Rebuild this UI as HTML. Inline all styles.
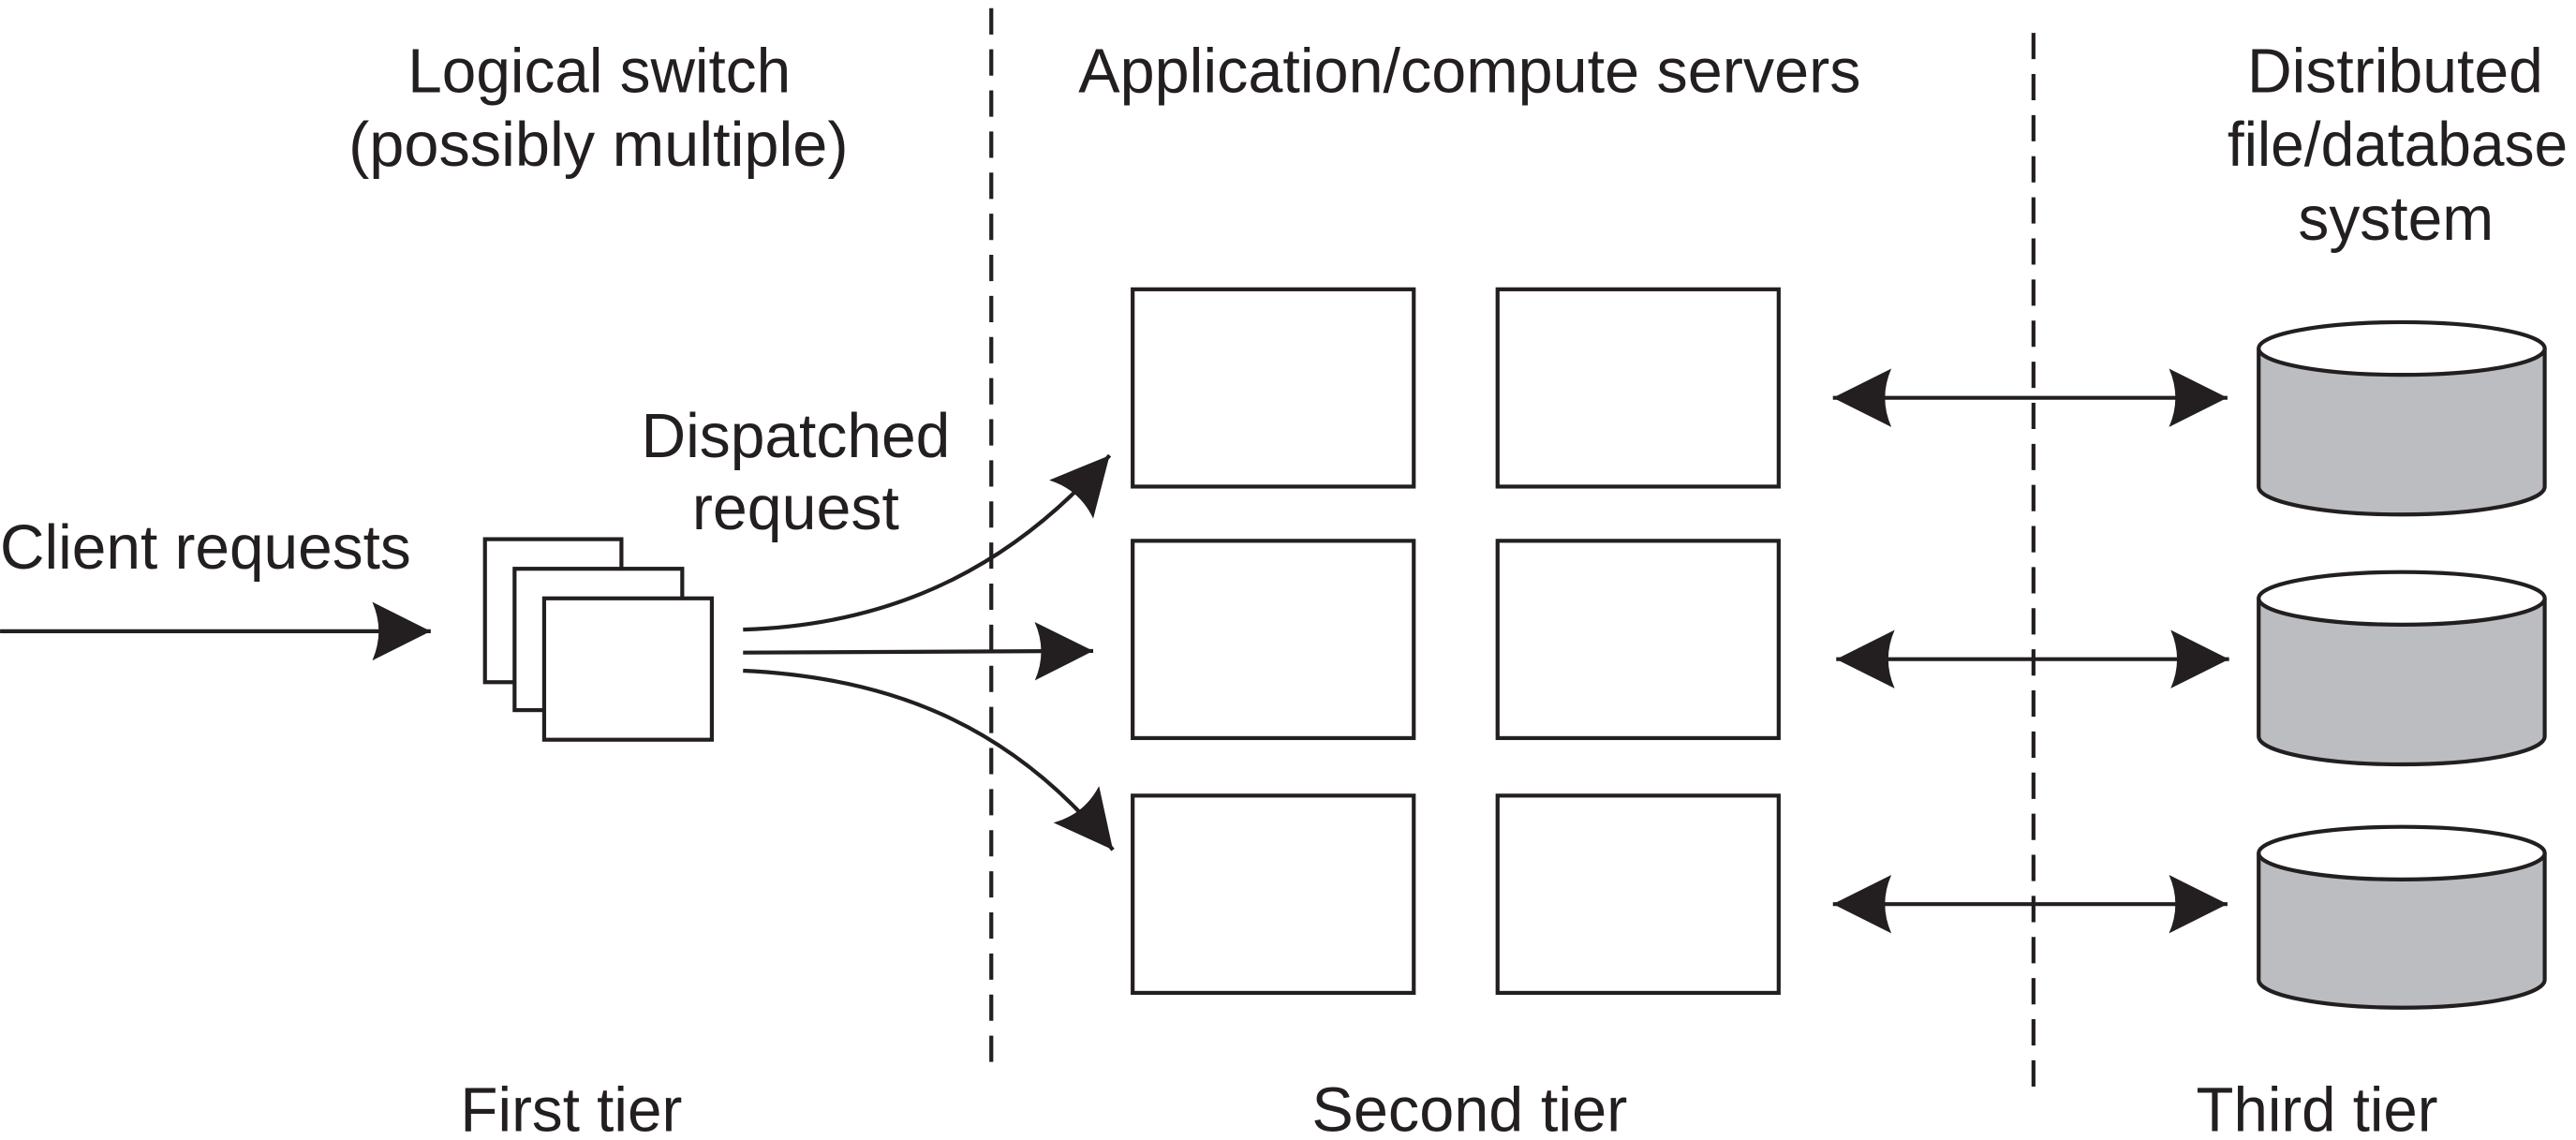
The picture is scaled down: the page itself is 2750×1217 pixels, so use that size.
<!DOCTYPE html>
<html><head><meta charset="utf-8"><style>
html,body{margin:0;padding:0;background:#fff;}
svg{display:block}
text{font-family:"Liberation Sans",Arial,sans-serif;font-size:38px;fill:#231f20;}
</style></head><body>
<svg width="2750" height="1217" viewBox="0 0 1567 693.5" xmlns="http://www.w3.org/2000/svg">
<defs>
<marker id="ah" markerWidth="40" markerHeight="40" viewBox="-34 -18 36 36" refX="0" refY="0" orient="auto" markerUnits="userSpaceOnUse">
<path d="M0,0 L-32,-16 Q-25,0 -32,16 Z" fill="#231f20"/>
</marker>
<marker id="ahs" markerWidth="40" markerHeight="40" viewBox="-34 -18 36 36" refX="0" refY="0" orient="auto-start-reverse" markerUnits="userSpaceOnUse">
<path d="M0,0 L-32,-16 Q-25,0 -32,16 Z" fill="#231f20"/>
</marker>
</defs>
<g stroke="#231f20" stroke-width="2.4" fill="none">
<line x1="603" y1="5" x2="603" y2="652" stroke-dasharray="16,9"/>
<line x1="1237" y1="20" x2="1237" y2="668" stroke-dasharray="16,9"/>
<line x1="0" y1="384" x2="262" y2="384" marker-end="url(#ah)"/>
<rect x="295" y="328" width="83" height="87" fill="#fff"/>
<rect x="313" y="346" width="102" height="86" fill="#fff"/>
<rect x="331" y="364" width="102" height="86" fill="#fff"/>
<path d="M452,383 C550,380 620,340 675,277" marker-end="url(#ah)"/>
<line x1="452" y1="397" x2="665" y2="396" marker-end="url(#ah)"/>
<path d="M452,408 C540,412 615,440 677,517" marker-end="url(#ah)"/>
<rect x="689" y="176" width="171" height="120"/>
<rect x="911" y="176" width="171" height="120"/>
<rect x="689" y="329" width="171" height="120"/>
<rect x="911" y="329" width="171" height="120"/>
<rect x="689" y="484" width="171" height="120"/>
<rect x="911" y="484" width="171" height="120"/>
<line x1="1115" y1="242" x2="1355" y2="242" marker-start="url(#ahs)" marker-end="url(#ahs)"/>
<line x1="1117" y1="401" x2="1356" y2="401" marker-start="url(#ahs)" marker-end="url(#ahs)"/>
<line x1="1115" y1="550" x2="1355" y2="550" marker-start="url(#ahs)" marker-end="url(#ahs)"/>
<g fill="#bcbdc0">
<path d="M1374,212 L1374,296 A87,17 0 0 0 1548,296 L1548,212"/>
<ellipse cx="1461" cy="212" rx="87" ry="16" fill="#fff"/>
<path d="M1374,364 L1374,448 A87,17 0 0 0 1548,448 L1548,364"/>
<ellipse cx="1461" cy="364" rx="87" ry="16" fill="#fff"/>
<path d="M1374,519 L1374,596 A87,17 0 0 0 1548,596 L1548,519"/>
<ellipse cx="1461" cy="519" rx="87" ry="16" fill="#fff"/>
</g>
</g>
<g>
<text x="248" y="56" textLength="233" lengthAdjust="spacingAndGlyphs">Logical switch</text>
<text x="212" y="101" textLength="304" lengthAdjust="spacingAndGlyphs">(possibly multiple)</text>
<text x="656" y="56" textLength="476" lengthAdjust="spacingAndGlyphs">Application/compute servers</text>
<text x="1367" y="56" textLength="180" lengthAdjust="spacingAndGlyphs">Distributed</text>
<text x="1355" y="101" textLength="207" lengthAdjust="spacingAndGlyphs">file/database</text>
<text x="1398" y="146" textLength="119" lengthAdjust="spacingAndGlyphs">system</text>
<text x="390" y="278" textLength="188" lengthAdjust="spacingAndGlyphs">Dispatched</text>
<text x="421" y="322" textLength="126" lengthAdjust="spacingAndGlyphs">request</text>
<text x="0" y="346" textLength="250" lengthAdjust="spacingAndGlyphs">Client requests</text>
<text x="280" y="688" textLength="135" lengthAdjust="spacingAndGlyphs">First tier</text>
<text x="798" y="688" textLength="192" lengthAdjust="spacingAndGlyphs">Second tier</text>
<text x="1336" y="688" textLength="147" lengthAdjust="spacingAndGlyphs">Third tier</text>
</g>
</svg>
</body></html>
